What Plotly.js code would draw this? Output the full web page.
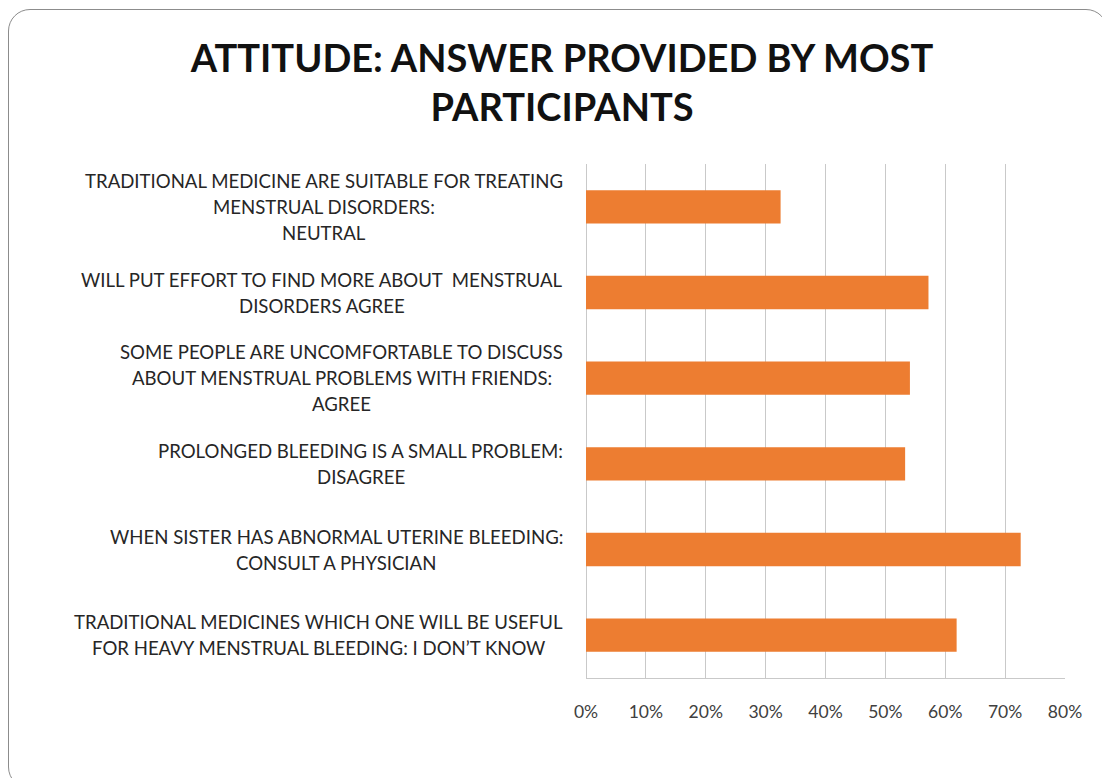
<!DOCTYPE html>
<html>
<head>
<meta charset="utf-8">
<script src="https://cdn.plot.ly/plotly-3.0.1.min.js"></script>
<style>
  html, body { margin: 0; padding: 0; background: #ffffff; }
  #frame { position: absolute; left: 8px; top: 9px; width: 1100px; height: 780px;
           border: 1.5px solid #8c8c8c; border-radius: 22px; box-sizing: border-box; }
  #chart { position: absolute; left: 0; top: 0; width: 1102px; height: 778px; }
</style>
</head>
<body>
<div id="frame"></div>
<div id="chart"></div>
<script>
const titleText = "ATTITUDE: ANSWER PROVIDED BY MOST<br>PARTICIPANTS";

const categories = [
  "TRADITIONAL MEDICINE ARE SUITABLE FOR TREATING<br>MENSTRUAL DISORDERS:<br>NEUTRAL",
  "WILL PUT EFFORT TO FIND MORE ABOUT  MENSTRUAL<br>DISORDERS AGREE",
  "SOME PEOPLE ARE UNCOMFORTABLE TO DISCUSS<br>ABOUT MENSTRUAL PROBLEMS WITH FRIENDS:<br>AGREE",
  "PROLONGED BLEEDING IS A SMALL PROBLEM:<br>DISAGREE",
  "WHEN SISTER HAS ABNORMAL UTERINE BLEEDING:<br>CONSULT A PHYSICIAN",
  "TRADITIONAL MEDICINES WHICH ONE WILL BE USEFUL<br>FOR HEAVY MENSTRUAL BLEEDING: I DON\u2019T KNOW"
];

const values = [0.325, 0.572, 0.541, 0.533, 0.726, 0.619];

const tickValues = [0, 0.1, 0.2, 0.3, 0.4, 0.5, 0.6, 0.7, 0.8];
const tickLabels = ["0%", "10%", "20%", "30%", "40%", "50%", "60%", "70%", "80%"];

const ids = categories.map((c, i) => "c" + i);

const annotations = [];
categories.forEach((label, i) => {
  const lines = label.split("<br>");
  const n = lines.length;
  lines.forEach((line, k) => {
    annotations.push({
      xref: "paper", yref: "y",
      x: -0.044, y: ids[i],
      xanchor: "right", yanchor: "middle",
      yshift: ((n - 1) / 2 - k) * 26,
      text: line, showarrow: false, align: "center",
      font: { family: "Lato, 'Open Sans', sans-serif", size: 18.6, color: "#262626" }
    });
  });
});

const trace = {
  type: "bar",
  orientation: "h",
  x: values,
  y: ids,
  marker: { color: "#ED7D31" },
  hoverinfo: "x"
};

const layout = {
  width: 1102, height: 778,
  paper_bgcolor: "rgba(0,0,0,0)",
  plot_bgcolor: "rgba(0,0,0,0)",
  margin: { l: 586, r: 37, t: 164, b: 100 },
  showlegend: false,
  bargap: 0.61,
  title: {
    text: titleText,
    font: { family: "Lato, 'Open Sans', sans-serif", size: 38, color: "#111111", weight: "bold" },
    x: 0.51, xanchor: "center",
    y: 1 - 72 / 778, yref: "container", yanchor: "middle"
  },
  xaxis: {
    range: [0, 0.8],
    tickvals: tickValues,
    ticktext: tickLabels,
    showgrid: true, gridcolor: "#c9c9c9", gridwidth: 1,
    zeroline: true, zerolinecolor: "#c9c9c9", zerolinewidth: 1,
    showline: true, linecolor: "#c9c9c9", linewidth: 1, mirror: false,
    ticks: "",
    ticklabelstandoff: 18,
    tickfont: { family: "Lato, 'Open Sans', sans-serif", size: 17.5, color: "#404040" },
    fixedrange: true
  },
  yaxis: {
    type: "category",
    categoryorder: "array",
    categoryarray: ids,
    autorange: "reversed",
    showticklabels: false,
    showgrid: false, zeroline: false, showline: false,
    ticks: "",
    fixedrange: true
  },
  annotations: annotations
};

Plotly.newPlot("chart", [trace], layout, { displayModeBar: false, staticPlot: true }).then(gd => {
  // centre the lines of each multi-line label on one another, block right-aligned
  const anns = gd.layout.annotations.map(a => Object.assign({}, a));
  const groups = {};
  gd.querySelectorAll(".annotation").forEach((node, idx) => {
    const a = anns[idx];
    const w = node.querySelector("text").getBBox().width;
    (groups[a.y] = groups[a.y] || []).push({ idx, w });
  });
  Object.keys(groups).forEach(key => {
    const g = groups[key];
    const maxW = Math.max(...g.map(o => o.w));
    g.forEach(o => { anns[o.idx].xshift = -(maxW - o.w) / 2; });
  });
  Plotly.relayout(gd, { annotations: anns });
});
</script>
</body>
</html>
